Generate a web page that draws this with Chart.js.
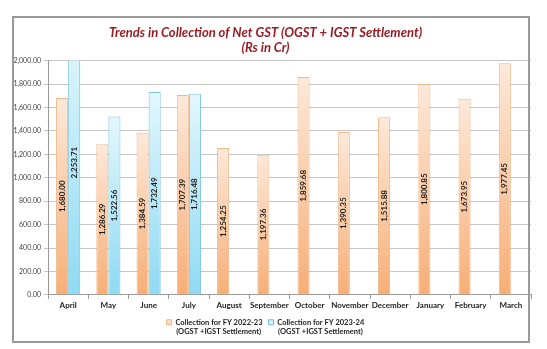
<!DOCTYPE html>
<html>
<head>
<meta charset="utf-8">
<script src="https://cdn.jsdelivr.net/npm/chart.js@4.4.0/dist/chart.umd.min.js"></script>
<style>
	html, body { margin: 0; padding: 0; background: #fff; }
	#wrap { position: relative; width: 547px; height: 349px; }
	#frame {
		position: absolute; left: 12px; top: 16px; width: 514px; height: 323px;
		border: 2px solid #9a9a9a; pointer-events: none;
	}
	#chart { position: absolute; left: 0; top: 0; }
</style>
</head>
<body>
<div id="wrap">
	<canvas id="chart" width="547" height="349"></canvas>
	<div id="frame"></div>
</div>
<script>
const months = ["April", "May", "June", "July", "August", "September", "October",
	"November", "December", "January", "February", "March"];
const fy2223 = [1680.00, 1286.29, 1384.59, 1707.39, 1254.25, 1197.36, 1859.68,
	1390.35, 1515.88, 1800.85, 1673.95, 1977.45];
const fy2324 = [2253.71, 1522.56, 1732.49, 1716.48, null, null, null,
	null, null, null, null, null];
const label2223 = "Collection for FY 2022-23";
const label2324 = "Collection for FY 2023-24";
const labelNote = "(OGST +IGST Settlement)";
const chartTitle = ["Trends in Collection of Net GST (OGST + IGST Settlement)", "(Rs in Cr)"];

const fmt = v => v.toLocaleString("en-US", { minimumFractionDigits: 2, maximumFractionDigits: 2 });

// bar fill: light at the top, stronger at the base
const barGradient = (light, dark) => context => {
	const chart = context.chart;
	const v = context.raw;
	if (!chart.chartArea || v == null) return dark;
	const y = chart.scales.y;
	const top = y.getPixelForValue(v);
	const bottom = y.getPixelForValue(0);
	const g = chart.ctx.createLinearGradient(0, top, 0, bottom);
	g.addColorStop(0, light);
	g.addColorStop(1, dark);
	return g;
};

const barLabels = {
	id: "barLabels",
	afterDatasetsDraw(chart) {
		const ctx = chart.ctx;
		ctx.save();
		ctx.font = "bold 8px Lato";
		ctx.fillStyle = "#1a1a1a";
		ctx.textAlign = "center";
		ctx.textBaseline = "middle";
		chart.data.datasets.forEach((ds, i) => {
			chart.getDatasetMeta(i).data.forEach((bar, j) => {
				const v = ds.data[j];
				if (v == null) return;
				ctx.save();
				ctx.translate(bar.x, (bar.y + bar.base) / 2);
				ctx.rotate(-Math.PI / 2);
				ctx.fillText(fmt(v), 0, 0);
				ctx.restore();
			});
		});
		ctx.restore();
	},
};

// second legend line under each entry
const legendNote = {
	id: "legendNote",
	afterDraw(chart) {
		const legend = chart.legend;
		if (!legend || !legend.legendHitBoxes) return;
		const ctx = chart.ctx;
		ctx.save();
		ctx.font = "bold 7.5px Lato";
		ctx.fillStyle = "#222";
		ctx.textAlign = "center";
		ctx.textBaseline = "top";
		legend.legendHitBoxes.forEach(box => {
			ctx.fillText(labelNote, box.left + box.width / 2 + 4, box.top + box.height + 2);
		});
		ctx.restore();
	},
};

const legendColors = [
	{ fill: "#fde2cc", stroke: "#f2b27e" },
	{ fill: "#d8f3fc", stroke: "#6fbfdc" },
];

new Chart(document.getElementById("chart"), {
	type: "bar",
	data: {
		labels: months,
		datasets: [
			{
				label: label2223,
				data: fy2223,
				backgroundColor: barGradient("#fde9da", "#f7ae76"),
				borderColor: "#f0b98c",
				borderWidth: 1,
			},
			{
				label: label2324,
				data: fy2324,
				backgroundColor: barGradient("#e3f7fd", "#8fdaf3"),
				borderColor: "#7cc6de",
				borderWidth: 1,
			},
		],
	},
	options: {
		responsive: false,
		animation: false,
		categoryPercentage: 0.6,
		barPercentage: 1.0,
		layout: { padding: { left: 0, right: 16, top: 10, bottom: 13 } },
		plugins: {
			title: {
				display: true,
				text: chartTitle,
				color: "#9b1b22",
				font: { family: "Lato", size: 13, weight: "bold", style: "italic", lineHeight: 1.1 },
				padding: { top: 16, bottom: 6 },
			},
			legend: {
				position: "bottom",
				labels: {
					color: "#222",
					font: { family: "Lato", size: 7.5, weight: "bold" },
					boxWidth: 5,
					boxHeight: 5,
					padding: 6,
					generateLabels: chart =>
						Chart.defaults.plugins.legend.labels.generateLabels(chart).map((item, i) => ({
							...item,
							fillStyle: legendColors[i].fill,
							strokeStyle: legendColors[i].stroke,
							lineWidth: 1,
						})),
				},
			},
			tooltip: { enabled: false },
		},
		scales: {
			x: {
				grid: { display: true, drawOnChartArea: false, offset: true, tickLength: 4, color: "#999" },
				border: { color: "#999" },
				ticks: {
					color: "#222",
					font: { family: "Lato", size: 8, weight: "bold" },
					maxRotation: 0,
					autoSkip: false,
					padding: 2,
				},
			},
			y: {
				min: 0,
				max: 2000,
				afterFit: scale => { scale.width = 48; },
				grid: { color: "#c6c6c6", tickLength: 4 },
				border: { color: "#999" },
				ticks: {
					stepSize: 200,
					color: "#444",
					font: { family: "Lato", size: 7 },
					callback: v => fmt(v),
					padding: 3,
				},
			},
		},
	},
	plugins: [barLabels, legendNote],
});
</script>
</body>
</html>
